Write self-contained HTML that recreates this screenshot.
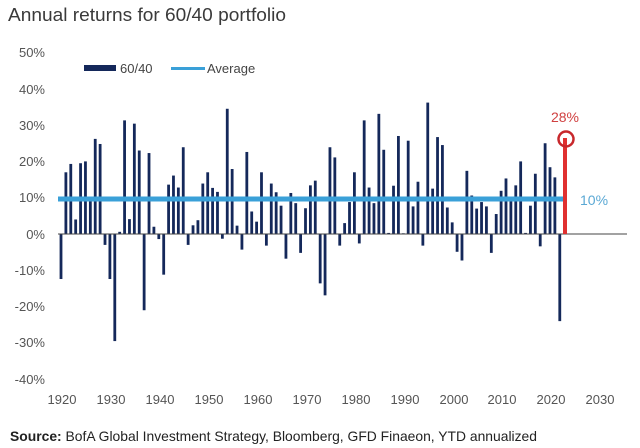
<!DOCTYPE html>
<html><head><meta charset="utf-8"><style>
html,body{margin:0;padding:0;background:#fff;}
svg{display:block;font-family:"Liberation Sans",sans-serif;}
</style></head><body>
<svg id="c" width="640" height="448" viewBox="0 0 640 448" xmlns="http://www.w3.org/2000/svg">
<rect width="640" height="448" fill="#fff"/>
<text x="8" y="21" font-size="18.5" fill="#3a3a3a" textLength="278" lengthAdjust="spacingAndGlyphs">Annual returns for 60/40 portfolio</text>
<g font-size="13" fill="#555" text-anchor="end">
<text x="45" y="57">50%</text><text x="45" y="94">40%</text><text x="45" y="130">30%</text>
<text x="45" y="166">20%</text><text x="45" y="202">10%</text><text x="45" y="239">0%</text>
<text x="45" y="275">-10%</text><text x="45" y="311">-20%</text><text x="45" y="347">-30%</text>
<text x="45" y="384">-40%</text>
</g>
<g font-size="13" fill="#555" text-anchor="middle">
<text x="62" y="404">1920</text><text x="111" y="404">1930</text><text x="160" y="404">1940</text>
<text x="209" y="404">1950</text><text x="258" y="404">1960</text><text x="307" y="404">1970</text>
<text x="356" y="404">1980</text><text x="405" y="404">1990</text><text x="454" y="404">2000</text>
<text x="502" y="404">2010</text><text x="551" y="404">2020</text><text x="600" y="404">2030</text>
</g>
<rect x="84" y="65" width="32" height="6" fill="#14285a"/>
<text x="120" y="73" font-size="13" fill="#444">60/40</text>
<rect x="171" y="67" width="34" height="3" fill="#3aa0d8"/>
<text x="207" y="73" font-size="13" fill="#444">Average</text>
<g id="bars"></g>
<line x1="58" y1="234" x2="627" y2="234" stroke="#444" stroke-width="1"/>
<rect x="58" y="196.5" width="507" height="5" fill="#3aa0d8"/>
<rect x="563" y="138" width="4" height="96" fill="#e03030"/>
<circle cx="566" cy="139" r="7.5" fill="none" stroke="#c8282c" stroke-width="2.5"/>
<text x="565" y="122" font-size="14" fill="#d04040" text-anchor="middle">28%</text>
<text x="580" y="205" font-size="14" fill="#5aa8d4">10%</text>
<text x="10" y="441" font-size="14" fill="#222" textLength="527" lengthAdjust="spacingAndGlyphs"><tspan font-weight="bold">Source:</tspan>  BofA Global Investment Strategy, Bloomberg, GFD Finaeon,  YTD annualized</text>
</svg>
<script>
var v=[-12.4,17,19.3,4,19.5,20,10,26.2,24.8,-3,-12.4,-29.5,0.6,31.3,4.1,30.4,23,-21,22.3,2,-1.4,-11.2,13.6,16.1,12.8,23.9,-3,2.4,3.8,13.9,17,12.7,11.6,-1.3,34.5,17.9,2.3,-4.3,22.6,6.2,3.4,17,-3.2,13.9,11.5,7.8,-6.8,11.3,8.5,-5.2,7.1,13.4,14.7,-13.6,-16.9,23.9,21.1,-3.2,3,8.8,17,-2.6,31.3,12.8,8.5,33.1,23.2,0.3,13.3,27,0.2,25.7,7.6,14.4,-3.2,36.2,12.5,26.7,24.5,7.3,3.2,-4.9,-7.3,17.4,10.6,7,8.8,7.6,-5.2,5.5,11.9,15.3,9.9,13.4,20,0.3,7.8,16.6,-3.4,25,18.4,15.6,-24];
var g=document.getElementById('bars'),s='';
for(var i=0;i<v.length;i++){var x=61+4.89*i-1.4,h=Math.abs(v[i])*3.63,y=v[i]>=0?234-h:234;
s+='<rect x="'+x.toFixed(2)+'" y="'+y.toFixed(2)+'" width="2.8" height="'+h.toFixed(2)+'" fill="#14285a"/>';}
g.innerHTML=s;
</script>
</body></html>
